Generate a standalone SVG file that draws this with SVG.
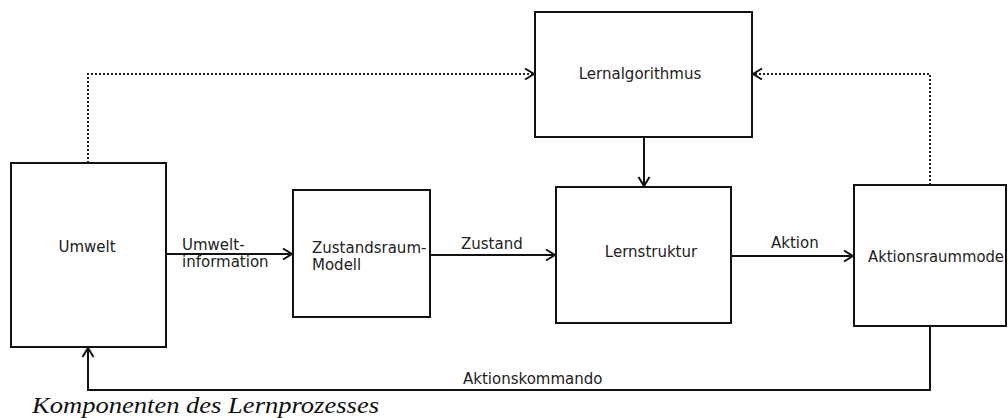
<svg xmlns="http://www.w3.org/2000/svg" width="1008" height="418" viewBox="0 0 1008 418">
<style>
.box{fill:#fff;stroke:#111;stroke-width:2}
.lbl{font-family:"DejaVu Sans",sans-serif;font-size:15px;fill:#222}
.ln{fill:none;stroke:#111;stroke-width:2}
.dot{fill:none;stroke:#222;stroke-width:2;stroke-dasharray:2 2}
.cap{font-family:"Liberation Serif",serif;font-style:italic;font-size:23px;fill:#111}
</style>
<defs>
<marker id="ah" markerWidth="14" markerHeight="14" refX="11" refY="7" orient="auto" markerUnits="userSpaceOnUse">
<path d="M2,1.5 L11,7 L2,12.5" fill="none" stroke="#111" stroke-width="2"/>
</marker>
</defs>
<rect width="1008" height="418" fill="#fff"/>
<g id="connectors">
<path class="dot" d="M88,163 V74 H534" marker-end="url(#ah)"/>
<path class="dot" d="M930,185 V74 H753" marker-end="url(#ah)"/>
<path class="ln" d="M166,254 H292" marker-end="url(#ah)"/>
<path class="ln" d="M430,255 H555" marker-end="url(#ah)"/>
<path class="ln" d="M644,137 V186" marker-end="url(#ah)"/>
<path class="ln" d="M731,256 H853" marker-end="url(#ah)"/>
<path class="ln" d="M930,326 V390 H88 V348" marker-end="url(#ah)"/>
<text class="lbl" x="182" y="250">Umwelt-</text>
<text class="lbl" x="182" y="267">information</text>
<text class="lbl" x="461" y="249">Zustand</text>
<text class="lbl" x="771" y="248">Aktion</text>
<text class="lbl" x="463" y="384">Aktionskommando</text>
</g>
<g id="umwelt">
<rect class="box" x="11" y="163" width="155" height="184"/>
<text class="lbl" x="87" y="252" text-anchor="middle">Umwelt</text>
</g>
<g id="zustandsraum">
<rect class="box" x="293" y="190" width="137" height="127"/>
<text class="lbl" x="312" y="253">Zustandsraum-</text>
<text class="lbl" x="312" y="270">Modell</text>
</g>
<g id="lernalgorithmus">
<rect class="box" x="535" y="12" width="217" height="125"/>
<text class="lbl" x="640" y="79" text-anchor="middle">Lernalgorithmus</text>
</g>
<g id="lernstruktur">
<rect class="box" x="556" y="187" width="175" height="136"/>
<text class="lbl" x="651" y="257" text-anchor="middle">Lernstruktur</text>
</g>
<g id="aktionsraum">
<rect class="box" x="854" y="185" width="152" height="141"/>
<text class="lbl" x="868" y="262" textLength="136" lengthAdjust="spacingAndGlyphs">Aktionsraummode</text>
</g>
<text class="cap" x="32" y="413" textLength="347" lengthAdjust="spacingAndGlyphs">Komponenten des Lernprozesses</text>
</svg>
